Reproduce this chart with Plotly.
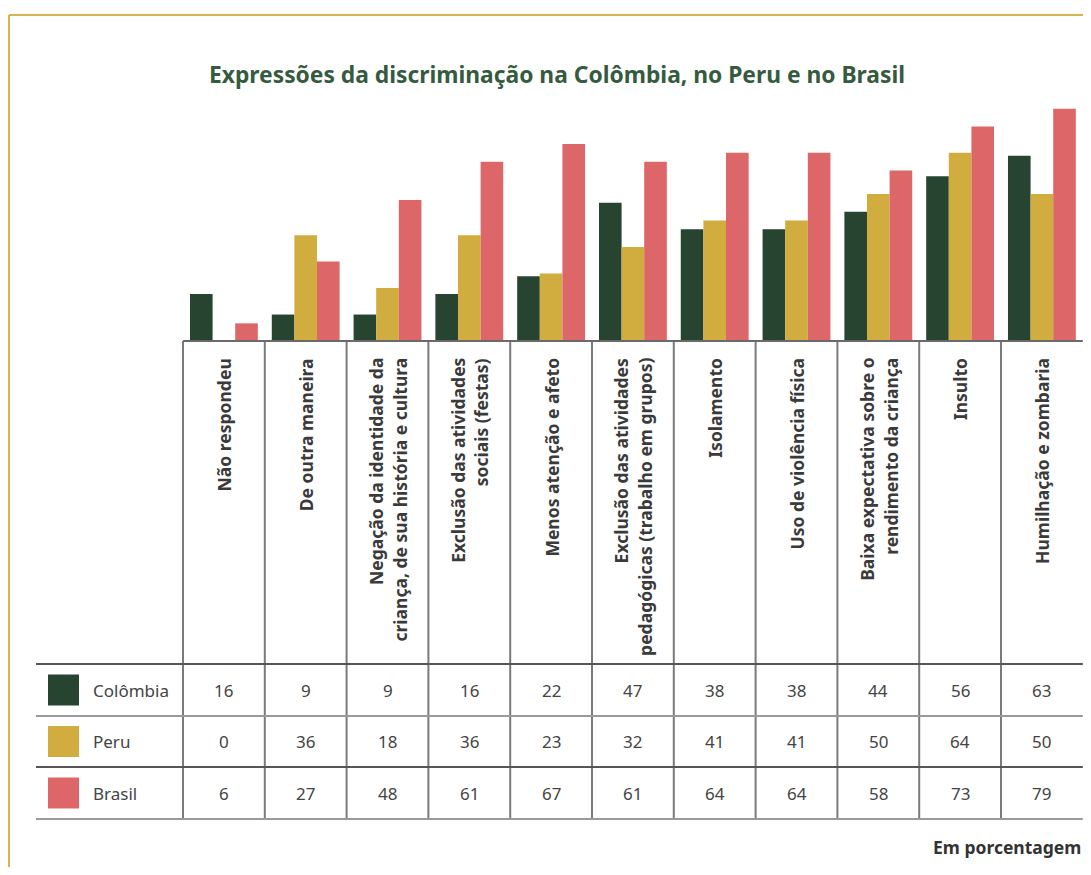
import plotly.graph_objects as go

# page is 1091x875 with an 8px body margin -> figure is 1075x859
OFF = 8
W, H = 1091 - 2 * OFF, 875 - 2 * OFF

categories = [
    "Não respondeu",
    "De outra maneira",
    "Negação da identidade da<br>criança, de sua história e cultura",
    "Exclusão das atividades<br>sociais (festas)",
    "Menos atenção e afeto",
    "Exclusão das atividades<br>pedagógicas (trabalho em grupos)",
    "Isolamento",
    "Uso de violência física",
    "Baixa expectativa sobre o<br>rendimento da criança",
    "Insulto",
    "Humilhação e zombaria",
]
series_names = ["Colômbia", "Peru", "Brasil"]
colombia = [16, 9, 9, 16, 22, 47, 38, 38, 44, 56, 63]
peru = [0, 36, 18, 36, 23, 32, 41, 41, 50, 64, 50]
brasil = [6, 27, 48, 61, 67, 61, 64, 64, 58, 73, 79]
series_values = [colombia, peru, brasil]
colors = ["#274431", "#D1AC3E", "#DD6668"]

title = "Expressões da discriminação na Colômbia, no Peru e no Brasil"
unit_note = "Em porcentagem"

FONT = "Noto Sans"


def px(x):
    """page pixel x -> paper fraction"""
    return min(1.0, max(0.0, (x - OFF) / W))


def py(y):
    """page pixel y -> paper fraction"""
    return min(1.0, max(0.0, 1 - (y - OFF) / H))


# layout geometry (page pixels)
col_left = 183
n = len(categories)
plot_right = 1082.8
col_w = (plot_right - col_left) / n
base_y, top_y = 341, 100
scale = 2.94  # px per percentage point
ymax = (base_y - top_y) / scale
row_lines = [664, 716, 767, 819]

fig = go.Figure()
xs = list(range(n))
for name, vals, c in zip(series_names, series_values, colors):
    fig.add_trace(go.Bar(x=xs, y=vals, name=name, marker=dict(color=c, line=dict(width=0)),
                         showlegend=False, hoverinfo="y+name"))

shapes = []
annotations = []

# gold frame
shapes.append(dict(type="line", xref="paper", yref="paper", x0=px(9), x1=1, y0=py(15), y1=py(15),
                   line=dict(color="#D8B44C", width=2)))
shapes.append(dict(type="line", xref="paper", yref="paper", x0=px(9), x1=px(9), y0=py(15), y1=0,
                   line=dict(color="#D8B44C", width=2)))

# vertical column lines
for i in range(n):
    x = col_left + col_w * i
    shapes.append(dict(type="line", xref="paper", yref="paper", x0=px(x), x1=px(x),
                       y0=py(base_y), y1=py(row_lines[-1]), line=dict(color="#7a7a7a", width=2)))

# baseline
shapes.append(dict(type="line", xref="paper", yref="paper", x0=px(col_left), x1=px(plot_right),
                   y0=py(base_y), y1=py(base_y), line=dict(color="#6a6a6a", width=2)))
# table row lines
row_cols = ["#555555", "#9a9a9a", "#555555", "#9a9a9a"]
for yl, rc in zip(row_lines, row_cols):
    shapes.append(dict(type="line", xref="paper", yref="paper", x0=px(36), x1=px(plot_right),
                       y0=py(yl), y1=py(yl), line=dict(color=rc, width=2)))

# legend swatches + names + values
for r, (name, vals, c) in enumerate(zip(series_names, series_values, colors)):
    y0, y1 = row_lines[r], row_lines[r + 1]
    yc = (y0 + y1) / 2
    shapes.append(dict(type="rect", xref="paper", yref="paper", x0=px(48), x1=px(79),
                       y0=py(yc - 15.5), y1=py(yc + 15.5), fillcolor=c, line=dict(width=0)))
    annotations.append(dict(text=name, xref="paper", yref="paper", x=px(91), y=py(yc),
                            xanchor="left", yanchor="middle", showarrow=False,
                            font=dict(family=FONT, size=17, color="#444444")))
    for i, v in enumerate(vals):
        annotations.append(dict(text=str(v), xref="x", yref="paper", x=i, y=py(yc),
                                xanchor="center", yanchor="middle", showarrow=False,
                                font=dict(family=FONT, size=17, color="#444444")))

# rotated category labels (one annotation per line for wider line spacing)
LINE_GAP = 24
for i, cat in enumerate(categories):
    lines = cat.split("<br>")
    k = len(lines)
    for j, ln in enumerate(lines):
        shift = (j - (k - 1) / 2) * LINE_GAP
        annotations.append(dict(text=ln, xref="x", yref="paper", x=i, y=py(356), xshift=shift,
                                xanchor="center", yanchor="top", textangle=-90,
                                showarrow=False,
                                font=dict(family=FONT, size=17.5, color="#3a3a3a", weight="bold")))

# title & note
annotations.append(dict(text=f"<b>{title}</b>", xref="paper", yref="paper", x=px(557), y=py(74),
                        xanchor="center", yanchor="middle", showarrow=False,
                        font=dict(family=FONT, size=22.8, color="#355B3F")))
annotations.append(dict(text=f"<b>{unit_note}</b>", xref="paper", yref="paper", x=px(1083), y=py(847),
                        xanchor="right", yanchor="middle", showarrow=False,
                        font=dict(family=FONT, size=17.5, color="#333333")))

fig.update_layout(
    width=W, height=H,
    margin=dict(l=0, r=0, t=0, b=0),
    paper_bgcolor="white", plot_bgcolor="white",
    barmode="group", bargap=14 / 82, bargroupgap=0,
    xaxis=dict(domain=[px(col_left), px(plot_right)], range=[-0.5, n - 0.5],
               showticklabels=False, showgrid=False, zeroline=False, showline=False, ticks=""),
    yaxis=dict(domain=[py(base_y), py(top_y)], range=[0, ymax],
               showticklabels=False, showgrid=False, zeroline=False, showline=False, ticks=""),
    shapes=shapes,
    annotations=annotations,
)

fig.write_html("out.html")
